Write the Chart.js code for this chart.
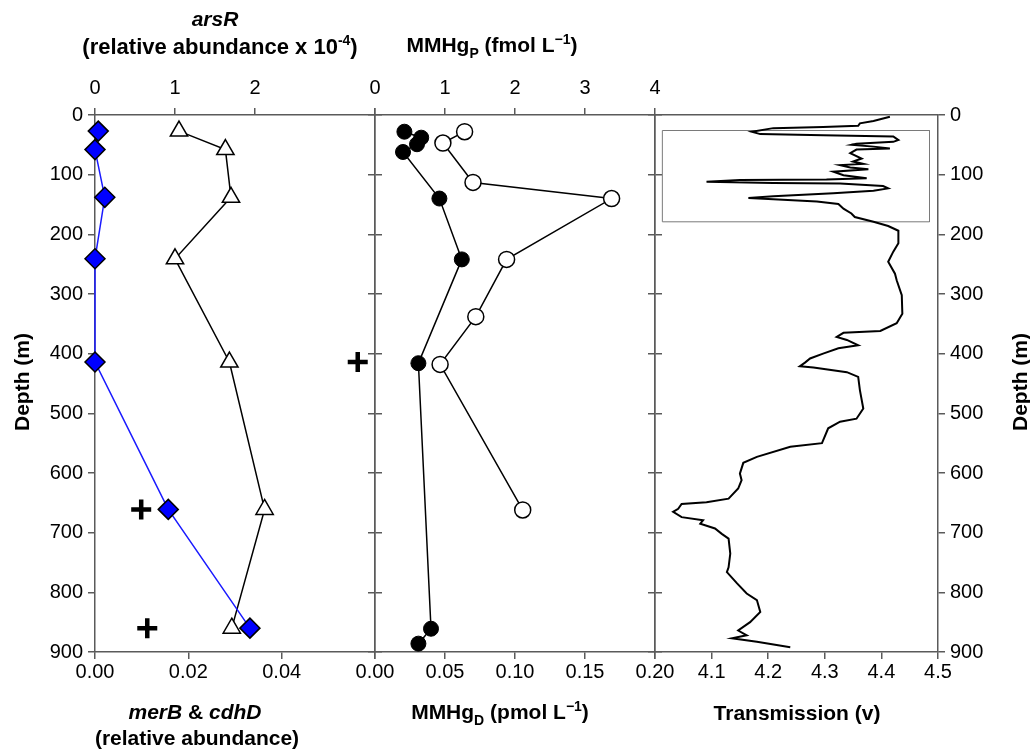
<!DOCTYPE html>
<html>
<head>
<meta charset="utf-8">
<script src="https://cdn.jsdelivr.net/npm/chart.js@4.4.1/dist/chart.umd.min.js"></script>
<style>
    body { margin: 0; background: #fff; width: 1030px; height: 755px; overflow: hidden; position: relative;
           font-family: "Liberation Sans", Arial, sans-serif; }
    canvas { position: absolute; left: 0; top: 0; }
    .lbl { position: absolute; transform: translate(-50%, -50%); font-weight: bold; font-size: 21px;
           white-space: nowrap; color: #000; }
    .rot { transform: translate(-50%, -50%) rotate(-90deg); }
    sup, sub { font-size: 14px; }
</style>
</head>
<body>
<canvas id="genes" width="1030" height="755"></canvas>
<canvas id="mmhg" width="1030" height="755"></canvas>
<canvas id="trans" width="1030" height="755"></canvas>

<div class="lbl" style="left:215px; top:19px;"><i>arsR</i></div>
<div class="lbl" style="left:220px; top:46px; font-size:22px;">(relative abundance x 10<sup>-4</sup>)</div>
<div class="lbl" style="left:492px; top:46px;">MMHg<sub>P</sub> (fmol L<sup>&minus;1</sup>)</div>
<div class="lbl" style="left:195px; top:712px;"><i>merB</i> &amp; <i>cdhD</i></div>
<div class="lbl" style="left:197px; top:738px;">(relative abundance)</div>
<div class="lbl" style="left:500px; top:713px;">MMHg<sub>D</sub> (pmol L<sup>&minus;1</sup>)</div>
<div class="lbl" style="left:797px; top:713px;">Transmission (v)</div>
<div class="lbl rot" style="left:22px; top:382px;">Depth (m)</div>
<div class="lbl rot" style="left:1020px; top:382px;">Depth (m)</div>

<script>
// ---- data ----
// panel 1: functional genes
const geneDepth = [27, 58, 138, 241, 414, 661, 860];
const merB = [0.0007, 0.0000, 0.0021, 0.0000, 0.0000, 0.0157, 0.0332];
const arsR = [1.05, 1.63, 1.70, 1.00, 1.68, 2.12, 1.71];
const cdhDDepth = [414, 661, 860];
const cdhD = [0.0563, 0.0099, 0.0112];

// panel 2: methylmercury
const mmhgDDepth = [28, 38, 49, 62, 140, 242, 416, 861, 886];
const mmhgD = [0.021, 0.033, 0.030, 0.020, 0.046, 0.062, 0.031, 0.040, 0.031];
const mmhgPDepth = [28, 47, 113, 140, 242, 338, 418, 662];
const mmhgP = [1.28, 0.97, 1.40, 3.38, 1.88, 1.44, 0.93, 2.11];

// panel 3: transmission profile
const transDepth = [3, 10, 14, 18, 20, 22, 28, 32, 34, 36, 42, 45, 48, 50, 53, 56, 58, 64, 73, 78,
    82, 84, 88, 91, 95, 101, 106, 108, 109, 112, 114, 115, 119, 123, 127, 131, 136, 139, 141, 145,
    149, 157, 165, 171, 179, 186, 194, 215, 229, 246, 266, 277, 302, 333, 349, 362, 365, 372, 377, 386,
    391, 400, 408, 415, 421, 423, 431, 439, 461, 492, 509, 514, 525, 550, 556, 573, 583, 601, 612, 626,
    643, 649, 652, 660, 665, 674, 679, 685, 693, 702, 710, 735, 758, 766, 785, 802, 813, 833, 850, 864,
    872, 877, 883, 892];
const transVolt = [4.415, 4.386, 4.362, 4.359, 4.297, 4.209, 4.171, 4.186, 4.297, 4.421, 4.430, 4.421, 4.356, 4.347, 4.386, 4.415, 4.356, 4.345, 4.365, 4.350,
    4.368, 4.327, 4.345, 4.377, 4.315, 4.333, 4.374, 4.303, 4.150, 4.091, 4.209, 4.327, 4.403, 4.412, 4.386, 4.315, 4.209, 4.165, 4.209, 4.286,
    4.324, 4.333, 4.347, 4.353, 4.386, 4.412, 4.430, 4.430, 4.421, 4.412, 4.424, 4.427, 4.436, 4.437, 4.427, 4.398, 4.333, 4.321, 4.339, 4.359,
    4.324, 4.297, 4.274, 4.265, 4.256, 4.280, 4.339, 4.359, 4.362, 4.368, 4.356, 4.327, 4.306, 4.295, 4.239, 4.180, 4.156, 4.150, 4.153, 4.147,
    4.130, 4.091, 4.047, 4.041, 4.032, 4.047, 4.085, 4.080, 4.106, 4.118, 4.130, 4.133, 4.130, 4.127, 4.145, 4.162, 4.180, 4.186, 4.168, 4.147,
    4.162, 4.136, 4.180, 4.239];
// outlined box around the upper spikes
const boxVolt = [4.013, 4.485, 4.485, 4.013, 4.013];
const boxDepth = [26, 26, 179, 179, 26];

// ---- helpers ----
const FONT = '"Liberation Sans", Arial, sans-serif';
const AXIS = '#5a5a5a';
const pts = (xs, ys) => xs.map((x, i) => ({ x: x, y: ys[i] }));

function depthAxis(position, showLabels, width) {
    return {
        type: 'linear', position: position, reverse: true, min: 0, max: 900,
        ticks: { stepSize: 100, display: showLabels, color: '#000', padding: 5, font: { family: FONT, size: 20 } },
        grid: { drawOnChartArea: false, drawTicks: true, tickLength: 7, color: AXIS, lineWidth: 1.5 },
        border: { display: true, color: AXIS, width: 1.5 },
        afterFit: s => { s.width = width; }
    };
}

function valueAxis(position, min, max, step, fmt, height, padding) {
    return {
        type: 'linear', position: position, min: min, max: max,
        ticks: { stepSize: step, display: !!fmt, color: '#000', padding: padding, autoSkip: false, maxRotation: 0,
                 font: { family: FONT, size: 20 }, callback: fmt || (v => v) },
        grid: { drawOnChartArea: false, drawTicks: !!fmt, tickLength: 7, color: AXIS, lineWidth: 1.5 },
        border: { display: true, color: AXIS, width: 1.5 },
        afterFit: s => { s.height = height; }
    };
}

function makeChart(id, padding, scales, datasets) {
    return new Chart(document.getElementById(id).getContext('2d'), {
        type: 'scatter',
        data: { datasets: datasets },
        options: {
            responsive: false,
            animation: false,
            events: [],
            layout: { padding: padding },
            plugins: { legend: { display: false }, tooltip: { enabled: false } },
            scales: scales
        }
    });
}

// ---- panel 1: merB / cdhD / arsR ----
makeChart('genes', { left: 0, right: 647, top: 0, bottom: 63 }, {
    y: depthAxis('left', true, 95),
    y2: depthAxis('right', false, 8),
    xt: valueAxis('top', 0, 3.5, 1, v => (v > 3.01 ? '' : v), 115, 8),
    x: valueAxis('bottom', 0, 0.06, 0.02, v => (v > 0.059 ? '' : v.toFixed(2)), 40, 1)
}, [
    { label: 'merB', data: pts(merB, geneDepth), xAxisID: 'x', yAxisID: 'y', showLine: true, clip: false,
      borderColor: '#1a1aff', borderWidth: 1.5, pointStyle: 'rectRot', pointRadius: 10,
      pointBackgroundColor: '#0000ff', pointBorderColor: '#000', pointBorderWidth: 1.5 },
    { label: 'cdhD', data: pts(cdhD, cdhDDepth), xAxisID: 'x', yAxisID: 'y', showLine: false, clip: false,
      pointStyle: 'cross', pointRadius: 10, pointBorderColor: '#000', pointBorderWidth: 4.5 },
    { label: 'arsR', data: pts(arsR, geneDepth), xAxisID: 'xt', yAxisID: 'y', showLine: true, clip: false,
      borderColor: '#000', borderWidth: 1.5, pointStyle: 'triangle', pointRadius: 10,
      pointBackgroundColor: '#fff', pointBorderColor: '#000', pointBorderWidth: 1.5 }
]);

// ---- panel 2: MMHg dissolved / particulate ----
makeChart('mmhg', { left: 367, right: 367, top: 0, bottom: 63 }, {
    y: depthAxis('left', false, 8),
    y2: depthAxis('right', false, 8),
    xt: valueAxis('top', 0, 4, 1, v => v, 115, 8),
    x: valueAxis('bottom', 0, 0.2, 0.05, v => v.toFixed(2), 40, 1)
}, [
    { label: 'MMHgD', data: pts(mmhgD, mmhgDDepth), xAxisID: 'x', yAxisID: 'y', showLine: true, clip: false,
      borderColor: '#000', borderWidth: 1.5, pointStyle: 'circle', pointRadius: 7.5,
      pointBackgroundColor: '#000', pointBorderColor: '#000', pointBorderWidth: 1 },
    { label: 'MMHgP', data: pts(mmhgP, mmhgPDepth), xAxisID: 'xt', yAxisID: 'y', showLine: true, clip: false,
      borderColor: '#000', borderWidth: 1.5, pointStyle: 'circle', pointRadius: 8,
      pointBackgroundColor: '#fff', pointBorderColor: '#000', pointBorderWidth: 1.5 }
]);

// ---- panel 3: transmission ----
makeChart('trans', { left: 647, right: 0, top: 0, bottom: 63 }, {
    y: depthAxis('left', false, 8),
    y2: depthAxis('right', true, 92),
    xt: valueAxis('top', 4.0, 4.5, 0.1, null, 115, 8),
    x: valueAxis('bottom', 4.0, 4.5, 0.1, v => (v < 4.05 ? '' : v.toFixed(1)), 40, 1)
}, [
    { label: 'Transmission', data: pts(transVolt, transDepth), xAxisID: 'x', yAxisID: 'y', showLine: true,
      borderColor: '#000', borderWidth: 2, pointRadius: 0 },
    { label: 'box', data: pts(boxVolt, boxDepth), xAxisID: 'x', yAxisID: 'y', showLine: true,
      borderColor: '#7a7a7a', borderWidth: 1, pointRadius: 0 }
]);
</script>
</body>
</html>
